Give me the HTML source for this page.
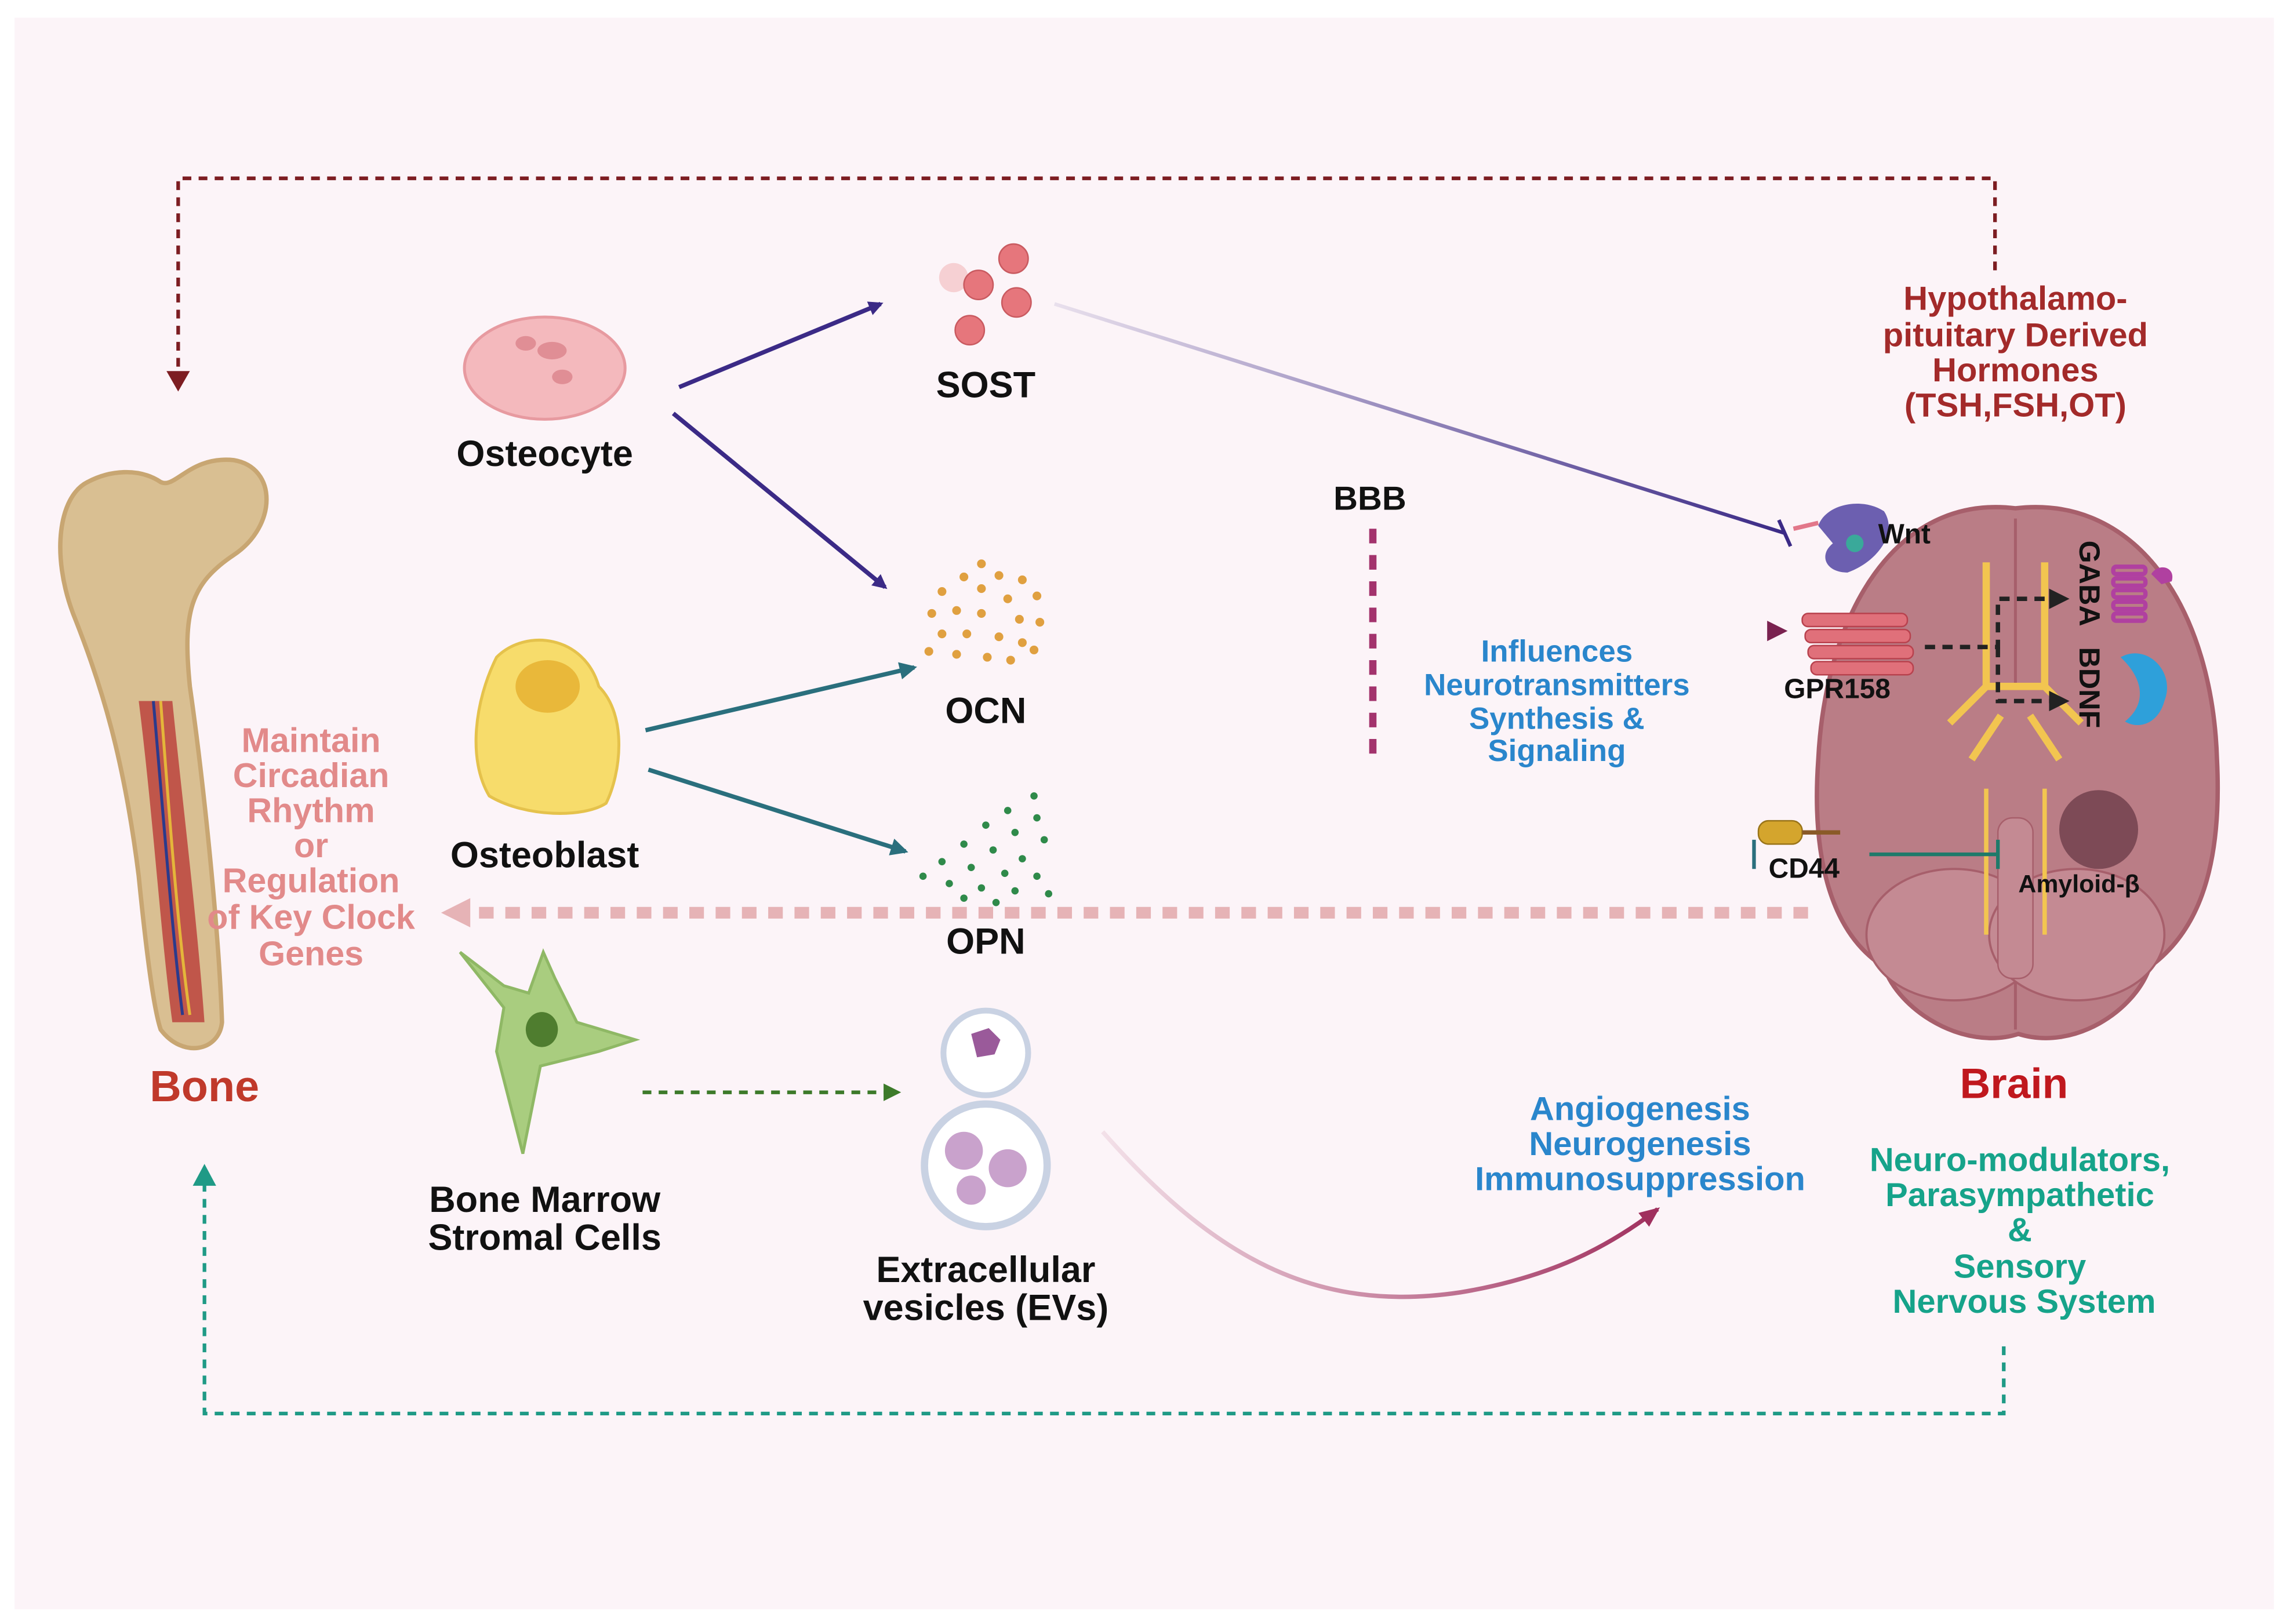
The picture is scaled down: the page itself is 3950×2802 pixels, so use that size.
<!DOCTYPE html>
<html><head><meta charset="utf-8"><style>
html,body{margin:0;padding:0;background:#fff;}
svg{display:block;}
text{font-family:"Liberation Sans",sans-serif;font-weight:bold;}
</style></head><body>
<svg width="3950" height="2802" viewBox="0 0 1568 1112" xmlns="http://www.w3.org/2000/svg">
<defs>
<marker id="aP" markerWidth="10" markerHeight="10" refX="8" refY="5" orient="auto" markerUnits="userSpaceOnUse" viewBox="0 0 10 10"><path d="M0,0 L10,5 L0,10 Z" fill="#3b2a86"/></marker>
<marker id="aT" markerWidth="12" markerHeight="12" refX="10" refY="6" orient="auto" markerUnits="userSpaceOnUse" viewBox="0 0 12 12"><path d="M0,0 L12,6 L0,12 Z" fill="#2a6f7d"/></marker>
<marker id="aM" markerWidth="14" markerHeight="14" refX="12" refY="7" orient="auto" markerUnits="userSpaceOnUse" viewBox="0 0 14 14"><path d="M0,0 L14,7 L0,14 Z" fill="#7a2250"/></marker>
<marker id="aG" markerWidth="12" markerHeight="12" refX="10" refY="6" orient="auto" markerUnits="userSpaceOnUse" viewBox="0 0 12 12"><path d="M0,0 L12,6 L0,12 Z" fill="#3d7a2a"/></marker>
<marker id="aC" markerWidth="16" markerHeight="16" refX="12" refY="8" orient="auto" markerUnits="userSpaceOnUse" viewBox="0 0 16 16"><path d="M0,2 L14,8 L0,14 Z" fill="#a0305e"/></marker>
<marker id="aK" markerWidth="14" markerHeight="14" refX="12" refY="7" orient="auto" markerUnits="userSpaceOnUse" viewBox="0 0 14 14"><path d="M0,0 L14,7 L0,14 Z" fill="#222"/></marker>
<linearGradient id="gS" x1="0" x2="1"><stop offset="0" stop-color="#3b2a86" stop-opacity="0.1"/><stop offset="1" stop-color="#3b2a86"/></linearGradient>
<linearGradient id="gO" x1="0" x2="1"><stop offset="0" stop-color="#7a2250" stop-opacity="0.1"/><stop offset="1" stop-color="#7a2250"/></linearGradient>
<linearGradient id="gN" x1="0" x2="1"><stop offset="0" stop-color="#2a6f7d" stop-opacity="0.1"/><stop offset="1" stop-color="#2a6f7d"/></linearGradient>
<linearGradient id="gE" x1="0" x2="1"><stop offset="0" stop-color="#a0305e" stop-opacity="0.1"/><stop offset="1" stop-color="#a0305e"/></linearGradient>
</defs>
<rect x="0" y="0" width="1568" height="1112" fill="#ffffff"/>
<rect x="10" y="12" width="1547" height="1090" fill="#fcf4f8"/>

<path d="M1366,185 L1366,122 L122,122 L122,262" fill="none" stroke="#7d1d22" stroke-width="2.5" stroke-dasharray="6,5"/>
<path d="M114,254 L122,268 L130,254 Z" fill="#7d1d22"/>
<path d="M1372,922 L1372,968 L140,968 L140,808" fill="none" stroke="#1f9a86" stroke-width="2.5" stroke-dasharray="6,5"/>
<path d="M132,812 L140,797 L148,812 Z" fill="#1f9a86"/>

<!-- Bone -->
<path d="M60,330 C40,340 35,380 50,420 C70,470 85,520 95,600 C100,650 105,690 110,705 C125,725 150,720 152,700 C150,640 140,540 130,470 C125,420 130,400 160,380 C190,360 190,320 160,315 C130,312 120,335 110,330 C95,320 75,322 60,330 Z" fill="#d9bf92" stroke="#c8a672" stroke-width="3"/>
<path d="M95,480 C105,560 110,640 118,700 L140,700 C135,630 125,550 118,480 Z" fill="#c0564a"/>
<path d="M105,480 C112,560 118,640 125,695" stroke="#2b3a8c" stroke-width="2" fill="none"/>
<path d="M110,480 C116,560 122,640 130,695" stroke="#e4b63a" stroke-width="2" fill="none"/>
<text x="140" y="754" font-size="30" fill="#c0392b" text-anchor="middle">Bone</text>

<g font-size="23.5" fill="#e28a8a" text-anchor="middle">
<text x="213" y="515">Maintain</text><text x="213" y="539">Circadian</text><text x="213" y="563">Rhythm</text><text x="213" y="587">or</text><text x="213" y="611">Regulation</text><text x="213" y="636">of Key Clock</text><text x="213" y="661">Genes</text>
</g>
<line x1="1238" y1="625" x2="322" y2="625" stroke="#e6b3b6" stroke-width="8" stroke-dasharray="10,8"/>
<path d="M322,615 L302,625 L322,635 Z" fill="#e6b3b6"/>

<!-- Osteocyte -->
<ellipse cx="373" cy="252" rx="55" ry="35" fill="#f4b9bd" stroke="#e79aa0" stroke-width="2"/>
<ellipse cx="378" cy="240" rx="10" ry="6" fill="#e08e95"/><ellipse cx="360" cy="235" rx="7" ry="5" fill="#e08e95"/><ellipse cx="385" cy="258" rx="7" ry="5" fill="#e08e95"/>
<text x="373" y="319" font-size="25" fill="#111" text-anchor="middle">Osteocyte</text>
<path d="M340,450 C360,430 400,435 410,470 C430,490 425,530 415,550 C400,560 360,560 335,545 C320,520 325,480 340,450 Z" fill="#f7dc6b" stroke="#e5c24c" stroke-width="2"/>
<ellipse cx="375" cy="470" rx="22" ry="18" fill="#e9b83a"/>
<text x="373" y="594" font-size="25" fill="#111" text-anchor="middle">Osteoblast</text>
<path d="M315,652 L345,690 L340,720 L358,790 L370,730 L410,720 L435,712 L395,700 L380,670 L372,652 L362,680 L345,675 Z" fill="#a9cd7f" stroke="#8fb865" stroke-width="2"/>
<ellipse cx="371" cy="705" rx="11" ry="12" fill="#4f7d2f"/>
<text x="373" y="830" font-size="25" fill="#111" text-anchor="middle">Bone Marrow</text>
<text x="373" y="856" font-size="25" fill="#111" text-anchor="middle">Stromal Cells</text>

<line x1="465" y1="265" x2="603" y2="208" stroke="#3b2a86" stroke-width="3" marker-end="url(#aP)"/>
<line x1="461" y1="283" x2="606" y2="402" stroke="#3b2a86" stroke-width="3" marker-end="url(#aP)"/>
<line x1="442" y1="500" x2="626" y2="457" stroke="#2a6f7d" stroke-width="3" marker-end="url(#aT)"/>
<line x1="444" y1="527" x2="620" y2="583" stroke="#2a6f7d" stroke-width="3" marker-end="url(#aT)"/>
<line x1="440" y1="748" x2="615" y2="748" stroke="#3d7a2a" stroke-width="2.5" stroke-dasharray="6,5" marker-end="url(#aG)"/>

<circle cx="653" cy="190" r="10" fill="#f6d0d3"/><circle cx="670" cy="195" r="10" fill="#e6767c" stroke="#c95a60"/><circle cx="694" cy="177" r="10" fill="#e6767c" stroke="#c95a60"/><circle cx="696" cy="207" r="10" fill="#e6767c" stroke="#c95a60"/><circle cx="664" cy="226" r="10" fill="#e6767c" stroke="#c95a60"/>
<text x="675" y="272" font-size="25" fill="#111" text-anchor="middle">SOST</text>
<g fill="#e0a040">
<circle cx="672" cy="386" r="3"/><circle cx="660" cy="395" r="3"/><circle cx="684" cy="394" r="3"/><circle cx="700" cy="397" r="3"/><circle cx="645" cy="405" r="3"/><circle cx="672" cy="403" r="3"/><circle cx="690" cy="410" r="3"/><circle cx="710" cy="408" r="3"/><circle cx="638" cy="420" r="3"/><circle cx="655" cy="418" r="3"/><circle cx="672" cy="420" r="3"/><circle cx="698" cy="424" r="3"/><circle cx="712" cy="426" r="3"/><circle cx="645" cy="434" r="3"/><circle cx="662" cy="434" r="3"/><circle cx="684" cy="436" r="3"/><circle cx="700" cy="440" r="3"/><circle cx="655" cy="448" r="3"/><circle cx="676" cy="450" r="3"/><circle cx="692" cy="452" r="3"/><circle cx="708" cy="445" r="3"/><circle cx="636" cy="446" r="3"/>
</g>
<text x="675" y="495" font-size="25" fill="#111" text-anchor="middle">OCN</text>
<g fill="#2f8a4a">
<circle cx="708" cy="545" r="2.5"/><circle cx="690" cy="555" r="2.5"/><circle cx="710" cy="560" r="2.5"/><circle cx="675" cy="565" r="2.5"/><circle cx="695" cy="570" r="2.5"/><circle cx="715" cy="575" r="2.5"/><circle cx="660" cy="578" r="2.5"/><circle cx="680" cy="582" r="2.5"/><circle cx="700" cy="588" r="2.5"/><circle cx="645" cy="590" r="2.5"/><circle cx="665" cy="594" r="2.5"/><circle cx="688" cy="598" r="2.5"/><circle cx="710" cy="600" r="2.5"/><circle cx="632" cy="600" r="2.5"/><circle cx="650" cy="605" r="2.5"/><circle cx="672" cy="608" r="2.5"/><circle cx="695" cy="610" r="2.5"/><circle cx="718" cy="612" r="2.5"/><circle cx="660" cy="615" r="2.5"/><circle cx="682" cy="618" r="2.5"/>
</g>
<text x="675" y="653" font-size="25" fill="#111" text-anchor="middle">OPN</text>
<circle cx="675" cy="721" r="29" fill="#fff" stroke="#c9d2e3" stroke-width="4"/>
<path d="M665,708 l12,-4 l8,8 l-4,10 l-12,2 z" fill="#9a5a9a"/>
<circle cx="675" cy="798" r="42" fill="#fff" stroke="#c9d2e3" stroke-width="5"/>
<circle cx="660" cy="788" r="13" fill="#c9a2cc"/><circle cx="690" cy="800" r="13" fill="#c9a2cc"/><circle cx="665" cy="815" r="10" fill="#c9a2cc"/>
<text x="675" y="878" font-size="25" fill="#111" text-anchor="middle">Extracellular</text>
<text x="675" y="904" font-size="25" fill="#111" text-anchor="middle">vesicles (EVs)</text>

<line x1="722" y1="208" x2="1222" y2="365" stroke="url(#gS)" stroke-width="2.5"/>
<line x1="1218" y1="356" x2="1226" y2="374" stroke="#3b2a86" stroke-width="2.5"/>
<line x1="732" y1="432" x2="1222" y2="432" stroke="url(#gO)" stroke-width="2.5" marker-end="url(#aM)"/>
<line x1="730" y1="585" x2="1200" y2="585" stroke="url(#gN)" stroke-width="2.5"/>
<line x1="1201" y1="575" x2="1201" y2="595" stroke="#2a6f7d" stroke-width="2.5"/>
<path d="M755,775 C830,860 900,900 1000,885 C1060,875 1100,855 1135,828" fill="none" stroke="url(#gE)" stroke-width="3" marker-end="url(#aC)"/>

<text x="938" y="349" font-size="23" fill="#111" text-anchor="middle">BBB</text>
<line x1="940" y1="362" x2="940" y2="520" stroke="#a3336d" stroke-width="5" stroke-dasharray="10,8"/>

<g font-size="21" fill="#2a86cc" text-anchor="middle">
<text x="1066" y="453">Influences</text><text x="1066" y="476">Neurotransmitters</text><text x="1066" y="499">Synthesis &amp;</text><text x="1066" y="521">Signaling</text>
<text x="1123" y="767" font-size="23">Angiogenesis</text><text x="1123" y="791" font-size="23">Neurogenesis</text><text x="1123" y="815" font-size="23">Immunosuppression</text>
</g>

<g font-size="23" fill="#a32a2a" text-anchor="middle">
<text x="1380" y="212">Hypothalamo-</text><text x="1380" y="237">pituitary Derived</text><text x="1380" y="261">Hormones</text><text x="1380" y="285">(TSH,FSH,OT)</text>
</g>

<!-- Brain -->
<path d="M1380,348 C1465,338 1515,420 1518,520 C1522,600 1502,640 1472,662 C1462,692 1420,720 1382,708 C1345,720 1300,692 1290,662 C1255,640 1240,590 1245,520 C1250,420 1298,338 1380,348 Z" fill="#ba7d86" stroke="#a75f6b" stroke-width="3"/>
<line x1="1380" y1="355" x2="1380" y2="470" stroke="#a75f6b" stroke-width="2"/>
<line x1="1380" y1="640" x2="1380" y2="705" stroke="#a75f6b" stroke-width="2"/>
<ellipse cx="1338" cy="640" rx="60" ry="45" fill="#c48a93" stroke="#a75f6b" stroke-width="1.5"/>
<ellipse cx="1422" cy="640" rx="60" ry="45" fill="#c48a93" stroke="#a75f6b" stroke-width="1.5"/>
<rect x="1368" y="560" width="24" height="110" rx="10" fill="#c48a93" stroke="#a75f6b"/>
<path d="M1360,385 L1360,470 L1335,495 M1400,385 L1400,470 L1425,495 M1360,470 L1400,470 M1370,490 L1350,520 M1390,490 L1410,520" stroke="#f2c550" stroke-width="5" fill="none"/>
<path d="M1360,540 L1360,640 M1400,540 L1400,640" stroke="#f2c550" stroke-width="3"/>
<circle cx="1437" cy="568" r="27" fill="#4a2030" opacity="0.55"/>
<path d="M1318,443 L1368,443 L1368,410 L1415,410" fill="none" stroke="#222" stroke-width="3" stroke-dasharray="7,5" marker-end="url(#aK)"/>
<path d="M1368,443 L1368,480 L1415,480" fill="none" stroke="#222" stroke-width="3" stroke-dasharray="7,5" marker-end="url(#aK)"/>
<path d="M1245,360 C1250,345 1275,340 1290,350 C1300,365 1285,385 1265,392 C1250,392 1245,380 1255,372 Z" fill="#6c5fb0"/>
<circle cx="1270" cy="372" r="6" fill="#3aa99a"/>
<line x1="1228" y1="362" x2="1245" y2="358" stroke="#e2778a" stroke-width="3"/>
<text x="1286" y="372" font-size="19" fill="#111">Wnt</text>
<g fill="#e0707a" stroke="#b8424e"><rect x="1234" y="420" width="72" height="9" rx="4"/><rect x="1236" y="431" width="72" height="9" rx="4"/><rect x="1238" y="442" width="72" height="9" rx="4"/><rect x="1240" y="453" width="70" height="9" rx="4"/></g>
<text x="1258" y="478" font-size="19" fill="#111" text-anchor="middle">GPR158</text>
<g fill="none" stroke="#b040a0" stroke-width="3"><rect x="1447" y="388" width="22" height="5" rx="2"/><rect x="1447" y="396" width="22" height="5" rx="2"/><rect x="1447" y="404" width="22" height="5" rx="2"/><rect x="1447" y="412" width="22" height="5" rx="2"/><rect x="1447" y="420" width="22" height="5" rx="2"/></g>
<path d="M1473,393 C1478,385 1490,388 1487,398 L1480,400 Z" fill="#b040a0"/>
<path d="M1452,450 C1470,440 1490,460 1482,480 C1478,495 1465,500 1455,494 C1470,482 1468,465 1452,450 Z" fill="#2ea0da"/>
<text transform="translate(1424,370) rotate(90)" font-size="20" fill="#111">GABA</text>
<text transform="translate(1424,443) rotate(90)" font-size="20" fill="#111">BDNF</text>
<rect x="1204" y="562" width="30" height="16" rx="7" fill="#d4a52d" stroke="#9a7419"/>
<line x1="1234" y1="570" x2="1260" y2="570" stroke="#8a5a28" stroke-width="3"/>
<text x="1211" y="601" font-size="19" fill="#111">CD44</text>
<line x1="1280" y1="585" x2="1367" y2="585" stroke="#1f7a6a" stroke-width="2.5"/>
<line x1="1368" y1="575" x2="1368" y2="595" stroke="#1f7a6a" stroke-width="2.5"/>
<text x="1382" y="611" font-size="17" fill="#111">Amyloid-β</text>

<text x="1379" y="752" font-size="29" fill="#c0181e" text-anchor="middle">Brain</text>
<g font-size="23" fill="#16a38a" text-anchor="middle">
<text x="1383" y="802">Neuro-modulators,</text><text x="1383" y="826">Parasympathetic</text><text x="1383" y="850">&amp;</text><text x="1383" y="875">Sensory</text><text x="1386" y="899">Nervous System</text>
</g>
</svg>
</body></html>
